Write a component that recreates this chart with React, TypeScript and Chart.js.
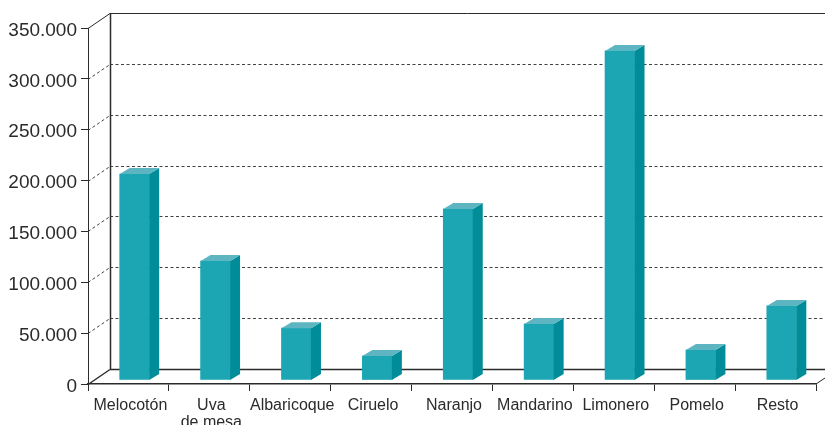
import React, { useEffect, useRef } from "react";
import { Chart, registerables } from "chart.js";

Chart.register(...registerables);

const categories: (string | string[])[] = ["Melocotón", ["Uva", "de mesa"], "Albaricoque", "Ciruelo", "Naranjo", "Mandarino", "Limonero", "Pomelo", "Resto"];
const values = [202500, 117000, 51000, 23600, 168000, 55000, 323500, 29500, 72800];
const yTicks = [0, 50000, 100000, 150000, 200000, 250000, 300000, 350000];

const FRONT = "#1ca5b2";
const SIDE = "#008c99";
const TOP = "#5cb5c1";
const INK = "#2b2b2b";
const WALL_DX = 22;
const WALL_DY = 15;
const BAR_DX = 10;
const BAR_DY = 6;

const fmt = (v: number) => String(v).replace(/\B(?=(\d{3})+(?!\d))/g, ".");

const line = (ctx: CanvasRenderingContext2D, x1: number, y1: number, x2: number, y2: number) => {
  ctx.beginPath();
  ctx.moveTo(x1, y1);
  ctx.lineTo(x2, y2);
  ctx.stroke();
};

const poly = (ctx: CanvasRenderingContext2D, pts: number[][], fill: string) => {
  ctx.beginPath();
  pts.forEach(([x, y], i) => (i ? ctx.lineTo(x, y) : ctx.moveTo(x, y)));
  ctx.closePath();
  ctx.fillStyle = fill;
  ctx.fill();
};

const box3d = {
  id: "box3d",
  beforeDatasetsDraw(chart: any) {
    const { ctx, chartArea, scales, width } = chart;
    const y = scales.y;
    const { left, right } = chartArea;
    const wallX = left + WALL_DX;
    ctx.save();
    ctx.strokeStyle = INK;
    yTicks.forEach((t) => {
      const py = Math.round(y.getPixelForValue(t)) + 0.5;
      const back = py - WALL_DY;
      const solid = t === 0 || t === yTicks[yTicks.length - 1];
      ctx.setLineDash(solid ? [] : [3, 2.5]);
      ctx.lineWidth = solid ? (t === 0 ? 1.5 : 1) : 0.9;
      line(ctx, left, py, wallX, back);
      line(ctx, wallX, back, width, back);
    });
    ctx.setLineDash([]);
    ctx.lineWidth = 1.5;
    line(ctx, wallX + 0.5, y.getPixelForValue(yTicks[yTicks.length - 1]) - WALL_DY, wallX + 0.5, y.getPixelForValue(0) - WALL_DY);
    ctx.lineWidth = 1;
    const by = y.getPixelForValue(0);
    line(ctx, right, by, right + 9, by - 6);
    ctx.restore();
    ctx.save();
    ctx.translate(6, -4);
  },
  afterDatasetsDraw(chart: any) {
    const { ctx } = chart;
    const zero = chart.scales.y.getPixelForValue(0);
    chart.getDatasetMeta(0).data.forEach((b: any) => {
      const l = b.x - b.width / 2;
      const r = b.x + b.width / 2;
      poly(ctx, [[r, b.y], [r + BAR_DX, b.y - BAR_DY], [r + BAR_DX, zero - BAR_DY], [r, zero]], SIDE);
      poly(ctx, [[l, b.y], [l + BAR_DX, b.y - BAR_DY], [r + BAR_DX, b.y - BAR_DY], [r, b.y]], TOP);
    });
    ctx.restore();
  },
};

export default function App() {
  const ref = useRef<HTMLCanvasElement>(null);
  useEffect(() => {
    document.body.style.margin = "0";
    const chart = new Chart(ref.current!, {
      type: "bar",
      data: {
        labels: categories as any,
        datasets: [{ data: values, backgroundColor: FRONT, barThickness: 29.5, borderWidth: 0 }],
      },
      options: {
        responsive: false,
        animation: false,
        devicePixelRatio: 1,
        layout: { padding: { top: 28, right: 9, left: 0, bottom: 0 } },
        plugins: { legend: { display: false }, tooltip: { enabled: false } },
        scales: {
          x: {
            grid: { drawOnChartArea: false, drawTicks: true, tickLength: 7, color: INK, offset: true },
            border: { color: INK, width: 1.5 },
            ticks: { color: INK, font: { family: "Liberation Sans", size: 16, lineHeight: 1.06 }, padding: 6, labelOffset: 2, maxRotation: 0, autoSkip: false },
            afterFit: (s: any) => { s.height = 41; },
          },
          y: {
            min: 0,
            max: 350000,
            afterBuildTicks: (s: any) => { s.ticks = yTicks.map((value) => ({ value })); },
            grid: { drawOnChartArea: false, drawTicks: true, tickLength: 7, color: INK },
            border: { color: INK, width: 1 },
            ticks: { color: INK, font: { family: "Liberation Sans", size: 19 }, padding: 4, labelOffset: 2.5, callback: (v: any) => fmt(Number(v)) },
            afterFit: (s: any) => { s.width = 88; },
          },
        },
      },
      plugins: [box3d],
    } as any);
    return () => chart.destroy();
  }, []);
  return <canvas ref={ref} width={825} height={425} style={{ display: "block" }} />;
}
